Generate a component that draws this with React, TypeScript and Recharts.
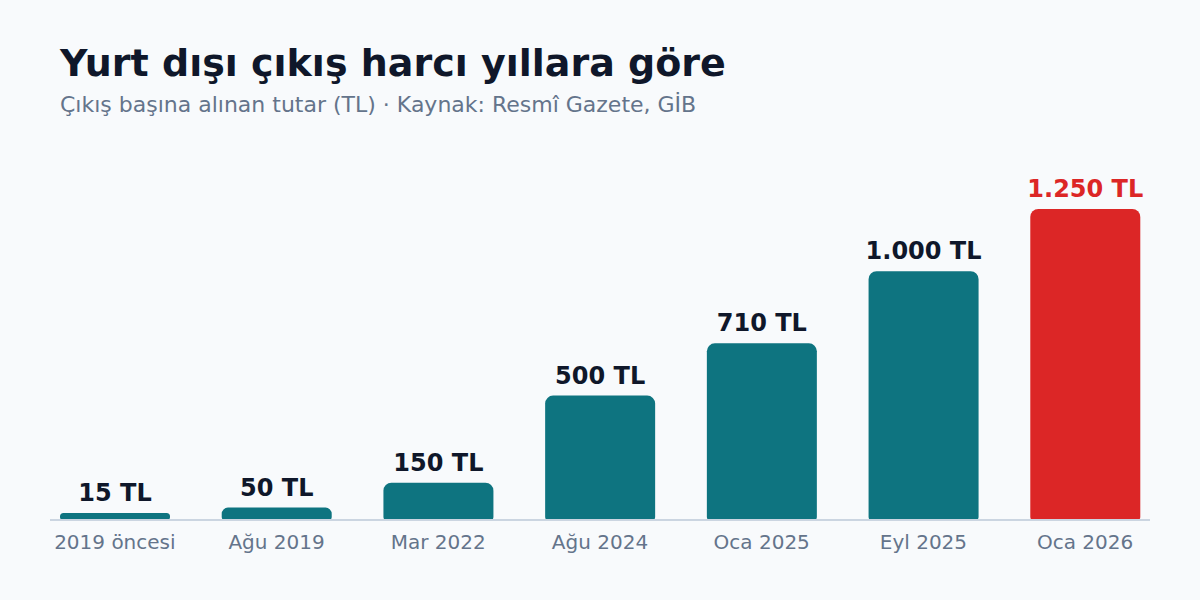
import { BarChart, Bar, XAxis, YAxis, Cell } from 'recharts';

const categories = ['2019 öncesi', 'Ağu 2019', 'Mar 2022', 'Ağu 2024', 'Oca 2025', 'Eyl 2025', 'Oca 2026'];
const fees = [15, 50, 150, 500, 710, 1000, 1250];
const highlightIndex = 6;

const TEAL = '#0e7480';
const RED = '#dc2626';
const FONT = '"DejaVu Sans", sans-serif';

// 1250 -> "1.250 TL"
const formatTL = (v: number) => String(v).replace(/\B(?=(\d{3})+(?!\d))/g, '.') + ' TL';

const chartData = categories.map((name, i) => ({ name, fee: fees[i] }));

const ValueLabel = (props: any) => {
  const { x, y, width, value, index } = props;
  return (
    <text
      x={x + width / 2}
      y={y - 12}
      textAnchor="middle"
      fontFamily={FONT}
      fontSize={24}
      fontWeight="bold"
      fill={index === highlightIndex ? RED : '#0f172a'}
    >
      {formatTL(value)}
    </text>
  );
};

export default function App() {
  return (
    <div
      style={{
        position: 'absolute',
        left: 0,
        top: 0,
        width: 1200,
        height: 600,
        background: '#f8fafc',
        fontFamily: FONT,
        overflow: 'hidden',
      }}
    >
      <div
        style={{
          position: 'absolute',
          left: 60,
          top: 44,
          fontSize: 38,
          lineHeight: 1,
          fontWeight: 'bold',
          color: '#0f172a',
          whiteSpace: 'nowrap',
        }}
      >
        Yurt dışı çıkış harcı yıllara göre
      </div>
      <div
        style={{
          position: 'absolute',
          left: 60,
          top: 94,
          fontSize: 22,
          lineHeight: 1,
          color: '#64748b',
          whiteSpace: 'nowrap',
        }}
      >
        Çıkış başına alınan tutar (TL) · Kaynak: Resmî Gazete, GİB
      </div>
      <div style={{ position: 'absolute', left: 0, top: 0 }}>
        <BarChart
          width={1200}
          height={600}
          data={chartData}
          margin={{ top: 209, right: 50, bottom: 50, left: 50 }}
        >
          <XAxis
            dataKey="name"
            height={30}
            padding={{ left: -16, right: -16 }}
            axisLine={{ stroke: '#cbd5e1', strokeWidth: 2 }}
            tickLine={false}
            tickSize={0}
            tickMargin={15}
            tick={{ fill: '#64748b', fontSize: 20, fontFamily: FONT }}
            interval={0}
          />
          <YAxis hide domain={[0, 1250]} />
          <Bar
            dataKey="fee"
            barSize={110}
            minPointSize={7}
            radius={[8, 8, 3, 3]}
            label={<ValueLabel />}
            isAnimationActive={false}
          >
            {chartData.map((d, i) => (
              <Cell key={d.name} fill={i === highlightIndex ? RED : TEAL} />
            ))}
          </Bar>
        </BarChart>
      </div>
    </div>
  );
}
